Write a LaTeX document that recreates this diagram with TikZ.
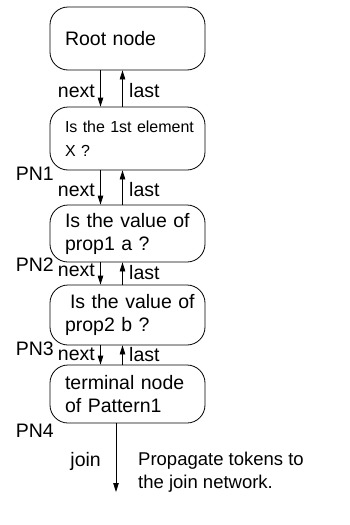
\documentclass[tikz,border=0pt]{standalone}
\usepackage{fontspec}
\setmainfont{Liberation Sans}
\usetikzlibrary{arrows.meta}
\tikzset{
  pbox/.style={draw, line width=0.8pt, rounded corners=18pt, minimum width=155pt,
    text width=125pt, inner xsep=15pt, inner ysep=0pt, align=left,
    font=\fontsize{19.5}{23}\selectfont},
  link/.style={line width=0.8pt, -{Triangle[length=9pt,width=5.5pt]}},
  lbl/.style={font=\fontsize{19.5}{23}\selectfont, inner sep=0pt},
}
\begin{document}
\begin{tikzpicture}[x=1pt, y=-1pt]
\useasboundingbox (0,0) rectangle (350,525);
% pattern network nodes
\node[pbox, minimum height=63pt] (root) at (127.5,38.5) {Root node};
\node[pbox, minimum height=63pt, font=\fontsize{16}{24}\selectfont] (pn1) at (127.5,138.5) {\mbox{Is the 1st element}\\X ?};
\node[pbox, minimum height=57pt] (pn2) at (127.5,233.5) {Is the value of\\prop1 a ?};
\node[pbox, minimum height=60pt] (pn3) at (127.5,315) {\mbox{\hspace*{5pt}Is the value of}\\prop2 b ?};
\node[pbox, minimum height=58pt] (pn4) at (127.5,394) {terminal node\\of Pattern1};
% next / last links
\draw[link] ([xshift=-27pt]root.south) -- ([xshift=-27pt]pn1.north);
\draw[link] ([xshift=-5pt]pn1.north) -- ([xshift=-5pt]root.south);
\draw[link] ([xshift=-27pt]pn1.south) -- ([xshift=-27pt]pn2.north);
\draw[link] ([xshift=-5pt]pn2.north) -- ([xshift=-5pt]pn1.south);
\draw[link] ([xshift=-27pt]pn2.south) -- ([xshift=-27pt]pn3.north);
\draw[link] ([xshift=-5pt]pn3.north) -- ([xshift=-5pt]pn2.south);
\draw[link] ([xshift=-27pt]pn3.south) -- ([xshift=-27pt]pn4.north);
\draw[link] ([xshift=-5pt]pn4.north) -- ([xshift=-5pt]pn3.south);
\coordinate (out) at (116,492);
\draw[link] (pn4.south -| out) -- (out);
% labels
\node[lbl, anchor=east] (n1) at (95,91) {next};
\node[lbl, anchor=west] (l1) at (129,91) {last};
\node[lbl, anchor=east] (p1) at (54,174) {PN1};
\node[lbl, anchor=east] (n2) at (95,190) {next};
\node[lbl, anchor=west] (l2) at (129,190) {last};
\node[lbl, anchor=east] (p2) at (54,265) {PN2};
\node[lbl, anchor=east] (n3) at (95,270) {next};
\node[lbl, anchor=west] (l3) at (129,273) {last};
\node[lbl, anchor=east] (p3) at (54,349) {PN3};
\node[lbl, anchor=east] (n4) at (95,354) {next};
\node[lbl, anchor=west] (l4) at (129,355) {last};
\node[lbl, anchor=east] (p4) at (54,431) {PN4};
\node[lbl, anchor=east] (jn) at (101,461) {join};
\node[lbl, anchor=north west, align=left, font=\fontsize{18.5}{23}\selectfont] (prop) at (138,452) {Propagate tokens to\\the join network.};
\end{tikzpicture}
\end{document}
